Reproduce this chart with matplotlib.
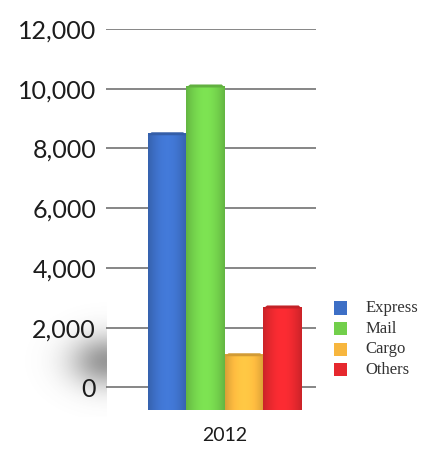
import matplotlib
matplotlib.use("Agg")
import matplotlib.pyplot as plt
import numpy as np
from matplotlib.colors import to_rgb
from matplotlib.patches import Polygon, Rectangle

# shipment volume by type, 2012
categories = ["Express", "Mail", "Cargo", "Others"]
values = [8500, 10100, 1100, 2700]
colors = ["#3d6fc6", "#72cf4b", "#f7b63e", "#e6282e"]
year_label = "2012"
yticks = [0, 2000, 4000, 6000, 8000, 10000, 12000]

base = -760  # bars sit slightly below the zero line (pseudo-3D floor)

fig = plt.figure(figsize=(4.32, 4.58), dpi=100)
fig.patch.set_facecolor("white")

# soft grey floor shadow to the left of the plot
sh = fig.add_axes([0.05, 0.09, 0.195, 0.27])
yy, xx = np.mgrid[-1:1:160j, -1:1:160j]
blob = np.exp(-(((xx - 1.0) / 0.85) ** 2 + ((yy - 0.1) / 0.42) ** 2))
rgba = np.zeros((160, 160, 4))
rgba[..., :3] = 0.42
rgba[..., 3] = 0.7 * blob
sh.imshow(rgba, extent=(0, 1, 0, 1), aspect="auto")
sh.set_axis_off()

ax = fig.add_axes([0.245, 0.1048, 0.486, 0.832])
ax.set_ylim(base, 12000)
ax.set_xlim(-1.59, 3.865)
ax.patch.set_alpha(0)
for s in ax.spines.values():
    s.set_visible(False)

for t in yticks:
    ax.axhline(t, color="#727272", lw=1.2, zorder=1)

ax.set_yticks(yticks)
ax.set_yticklabels([f"{t:,}" for t in yticks], fontsize=18, color="#1c1c1c",
                   family="Lato")
ax.tick_params(axis="y", length=0, pad=7)
ax.set_xticks([1.5])
ax.set_xticklabels([year_label], fontsize=14, color="#1c1c1c", family="Lato")
ax.tick_params(axis="x", length=0, pad=12)

width = 1.0
for i, (v, c) in enumerate(zip(values, colors)):
    x0 = i - width / 2
    r, g, b = to_rgb(c)
    rect = Rectangle((x0, base), width, v - base, facecolor=c, edgecolor="none", zorder=3)
    ax.add_patch(rect)
    # horizontal shading across the bar face
    u = np.linspace(0, 1, 64)
    shade = 0.78 + 0.32 * np.sin(np.pi * (0.1 + 0.8 * u))
    grad = np.clip(np.array([r, g, b])[None, :] * shade[:, None], 0, 1)
    im = ax.imshow(grad[None, :, :], extent=(x0, x0 + width, base, v),
                   aspect="auto", zorder=4, interpolation="bilinear")
    im.set_clip_path(rect)
    # slim top bevel
    cap = Polygon([(x0, v - 60), (x0 + 0.1, v + 40), (x0 + width - 0.08, v + 40),
                   (x0 + width, v - 60)], closed=True,
                  facecolor=(r * 0.85, g * 0.85, b * 0.85), edgecolor="none", zorder=5)
    ax.add_patch(cap)

# legend
lx, ly = 0.772, 0.327
for i, (name, c) in enumerate(zip(categories, colors)):
    y = ly - i * 0.045
    fig.patches.append(Rectangle((lx, y - 0.014), 0.032, 0.029, facecolor=c,
                                 edgecolor="none", transform=fig.transFigure, figure=fig))
    fig.text(lx + 0.073, y, name, fontsize=12, family="Liberation Serif",
             color="#333333", va="center", ha="left")

fig.savefig("out.png", dpi=100, facecolor="white")
